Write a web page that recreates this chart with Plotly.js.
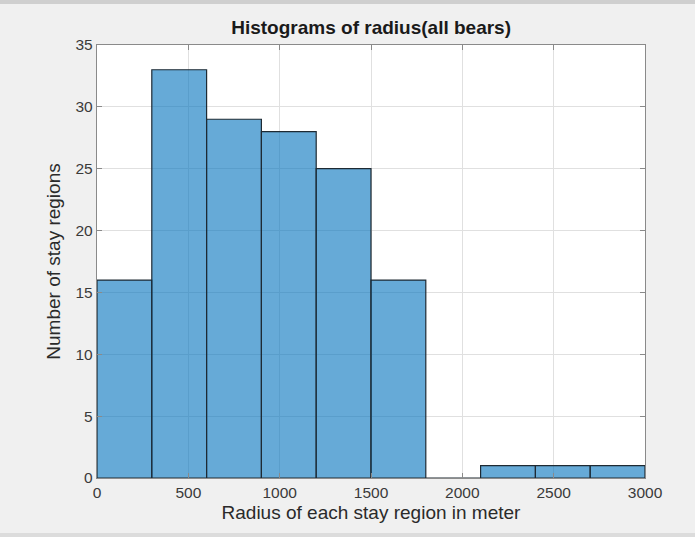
<!DOCTYPE html>
<html>
<head>
<meta charset="utf-8">
<script src="https://cdn.plot.ly/plotly-3.0.1.min.js"></script>
<style>
html,body{margin:0;padding:0;background:#f0f0f0;}
#wrap{position:relative;width:695px;height:537px;overflow:hidden;}
#topbar{position:absolute;left:0;top:0;width:695px;height:4px;background:#cfcfcf;z-index:5;}
#botbar{position:absolute;left:0;top:533px;width:695px;height:4px;background:#dcdcdc;z-index:5;}
#chart{width:695px;height:537px;}
</style>
</head>
<body>
<div id="wrap"><div id="topbar"></div><div id="botbar"></div><div id="chart"></div></div>
<script>
const binCenters = [150, 450, 750, 1050, 1350, 1650, 1950, 2250, 2550, 2850];
const counts = [16, 33, 29, 28, 25, 16, 0, 1, 1, 1];
const binWidth = 300;
const xTicks = [0, 500, 1000, 1500, 2000, 2500, 3000];
const yTicks = [0, 5, 10, 15, 20, 25, 30, 35];

const trace = {
  type: 'bar',
  x: binCenters,
  y: counts,
  width: binCenters.map(() => binWidth),
  marker: {color: 'rgba(0,114,189,0.6)', line: {color: '#1e2a33', width: 1.2}},
  hoverinfo: 'x+y'
};

const FONT = 'Liberation Sans, Arial, sans-serif';
const axisCommon = {
  showline: true, linecolor: '#8a8a8a', linewidth: 1.2, mirror: 'ticks',
  ticks: 'inside', ticklen: 5, tickcolor: '#8a8a8a',
  showgrid: true, gridcolor: '#e0e0e0', gridwidth: 1,
  zeroline: false,
  tickfont: {family: FONT, size: 15.5, color: '#3a3a3a'}
};

const layout = {
  width: 695, height: 537,
  paper_bgcolor: '#f0f0f0', plot_bgcolor: '#ffffff',
  margin: {l: 97, r: 50, t: 45, b: 59},
  showlegend: false,
  bargap: 0,
  title: {text: '<b>Histograms of radius(all bears)</b>', x: 0.534, xanchor: 'center', y: 0.95, yanchor: 'middle',
          font: {family: FONT, size: 19, color: '#1a1a1a'}},
  xaxis: Object.assign({}, axisCommon, {
    range: [0, 3000], tickvals: xTicks, ticktext: xTicks.map(String),
    title: {text: 'Radius of each stay region in meter', standoff: 6,
            font: {family: FONT, size: 19, color: '#2a2a2a'}}
  }),
  yaxis: Object.assign({}, axisCommon, {
    range: [0, 35], tickvals: yTicks, ticktext: yTicks.map(String),
    title: {text: 'Number of stay regions', standoff: 9,
            font: {family: FONT, size: 19, color: '#2a2a2a'}}
  })
};

Plotly.newPlot('chart', [trace], layout, {displayModeBar: false, staticPlot: true});
</script>
</body>
</html>
